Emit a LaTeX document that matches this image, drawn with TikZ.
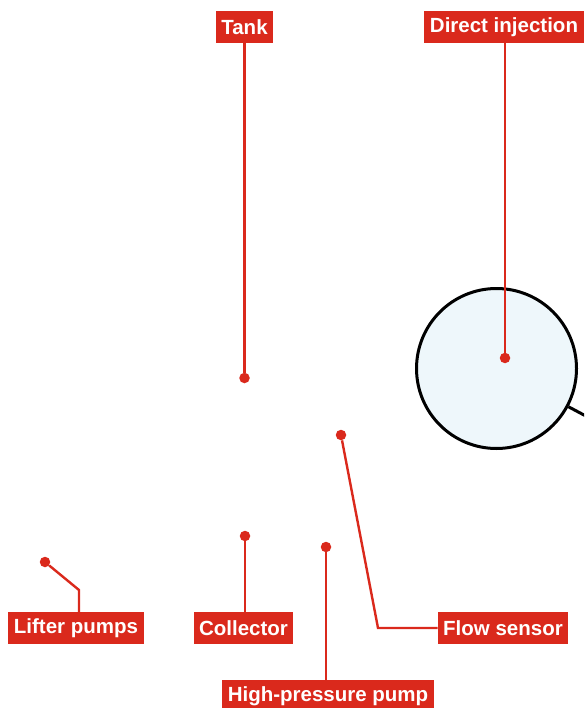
\documentclass[tikz,border=0pt]{standalone}
\usepackage{fontspec}
\setmainfont{Liberation Sans}
\usepackage{tikz}
\usetikzlibrary{positioning, calc}
\definecolor{labred}{RGB}{218,41,28}
\definecolor{lensblue}{RGB}{238,247,251}

\begin{document}
\begin{tikzpicture}[
      x=1pt, y=-1pt,
      tag/.style={fill=labred, text=white, inner xsep=5.5pt, inner ysep=0pt,
                  minimum height=32pt, font=\fontsize{20.5}{23}\selectfont\bfseries},
      spot/.style={circle, fill=labred, inner sep=0pt, minimum size=10.5pt},
      lead/.style={draw=labred, line width=2.4pt},
      rim/.style={draw=black, line width=3pt}
  ]
    \useasboundingbox (0,0) rectangle (584,708);
    \clip (0,0) rectangle (584,708);

    % Lens
    \node[rim, circle, fill=lensblue, minimum size=160pt, inner sep=0pt] (lens) at (496.5,368.5) {};
    \draw[rim] (lens.-28) -- ++(-28:60pt);

    % Labels
    \node[tag] (tank)   at (244.5,27)  {Tank};
    \node[tag] (inj)    at (504,27)    {Direct injection};
    \node[tag] (lift)   at (76,628)    {Lifter pumps};
    \node[tag] (coll)   at (243.5,628) {Collector};
    \node[tag] (flow)   at (503,628)   {Flow sensor};
    \node[tag] (hpump)  at (328,696)   {High-pressure pump};

    % Marked points
    \node[spot] (tankdot)  at (244.5,378) {};
    \node[spot] (injdot)   at (505,358)   {};
    \node[spot] (flowdot)  at (341,435)   {};
    \node[spot] (colldot)  at (245,536)   {};
    \node[spot] (hpumpdot) at (326,547)   {};
    \node[spot] (liftdot)  at (45,562)    {};
    \coordinate (flowbend) at (378,628);
    \coordinate (liftbend) at (79,590);

    % Leaders
    \draw[lead] (tank.south) -- (tankdot);
    \draw[lead] (inj.south -| injdot) -- (injdot);
    \draw[lead] (flowdot) -- (flowbend) -- (flow.west);
    \draw[lead] (colldot) -- (colldot |- coll.north);
    \draw[lead] (hpumpdot) -- (hpumpdot |- hpump.north);
    \draw[lead] (liftdot) -- (liftbend) -- (liftbend |- lift.north);
  \end{tikzpicture}
\end{document}
